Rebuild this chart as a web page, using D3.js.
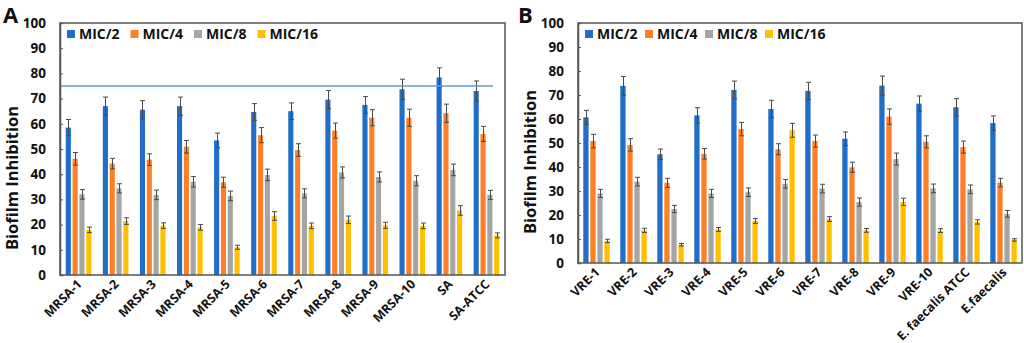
<!DOCTYPE html>
<html><head><meta charset="utf-8">
<script src="https://cdn.jsdelivr.net/npm/d3@7"></script>
<style>body{margin:0;background:#fff}svg{display:block}text{font-family:"Open Sans",sans-serif;font-weight:700;fill:#111}</style>
</head><body>
<svg id="c" width="1024" height="343"></svg>
<script>
const seriesNames = ["MIC/2","MIC/4","MIC/8","MIC/16"];
const colors = ["#1F6FCA","#FF7F27","#A5A5A5","#FFC000"];
const yTicks = [0,10,20,30,40,50,60,70,80,90,100];

const catsA = ["MRSA-1","MRSA-2","MRSA-3","MRSA-4","MRSA-5","MRSA-6","MRSA-7","MRSA-8","MRSA-9","MRSA-10","SA","SA-ATCC"];
const mic2A  = [58.5, 67, 65.6, 67, 53.4, 64.7, 65, 69.6, 67.5, 73.7, 78.4, 73];
const mic4A  = [46.1, 44.2, 45.8, 50.9, 36.8, 55.5, 49.6, 57.3, 62.4, 62.4, 64.2, 56];
const mic8A  = [32, 34.4, 31.8, 37, 31.4, 39.7, 32.4, 40.7, 38.9, 37.4, 41.7, 31.8];
const mic16A = [17.9, 21.4, 19.6, 18.9, 11, 23.4, 19.5, 21.9, 19.7, 19.5, 25.6, 15.7];
const err2A  = [3.2, 3.6, 3.6, 3.6, 2.9, 3.3, 3.3, 3.6, 3.3, 4, 3.8, 4];
const err4A  = [2.5, 2.1, 2.3, 2.5, 2, 3, 2.5, 3, 3.2, 3.4, 3.6, 3];
const err8A  = [1.9, 1.8, 1.9, 2.1, 1.9, 2.3, 1.8, 2.2, 2, 2, 2.3, 1.8];
const err16A = [1.1, 1.3, 1.1, 1.1, 0.8, 1.7, 1.1, 1.5, 1.2, 1.1, 1.9, 1];
const refLineA = 75;

const catsB = ["VRE-1","VRE-2","VRE-3","VRE-4","VRE-5","VRE-6","VRE-7","VRE-8","VRE-9","VRE-10","E. faecalis ATCC","E.faecalis"];
const mic2B  = [60.7, 73.8, 45.3, 61.5, 72.1, 64.2, 71.7, 51.8, 73.9, 66.4, 64.9, 58.3];
const mic4B  = [50.8, 49.2, 33.4, 45.5, 55.8, 47.4, 50.8, 39.9, 61, 50.5, 48.3, 33.5];
const mic8B  = [29, 33.9, 22.5, 29, 29.5, 33, 31, 25.4, 43.3, 31.1, 30.7, 20.5];
const mic16B = [9.2, 13.6, 7.6, 14, 17.5, 55.3, 18.3, 13.6, 25.5, 13.5, 17.1, 9.6];
const err2B  = [2.9, 3.9, 2.2, 3.2, 3.7, 3.6, 3.6, 2.8, 4, 3.2, 3.6, 3];
const err4B  = [2.8, 2.6, 1.9, 2.2, 2.8, 2.3, 2.5, 2.1, 3.2, 2.5, 2.5, 1.8];
const err8B  = [1.7, 1.8, 1.5, 1.7, 1.8, 1.8, 1.8, 1.7, 2.5, 1.8, 1.8, 1.4];
const err16B = [0.7, 0.9, 0.5, 0.8, 1, 2.9, 1, 0.8, 1.5, 0.8, 0.9, 0.5];

const svg = d3.select("#c");

function panel(cfg){
  const {letter, letterX, cats, vals, errs, left, right, top, bottom, pad, legendX, legendStep, titleX, titleY, ref} = cfg;
  const g = svg.append("g");
  const x = d3.scaleBand().domain(cats).range([left,right]).paddingInner(pad).paddingOuter(pad/2);
  const xs = d3.scaleBand().domain(d3.range(4)).range([0,x.bandwidth()]).paddingInner(0.25);
  const y = d3.scaleLinear().domain([0,100]).range([bottom,top]);

  seriesNames.forEach((s,si)=>{
    g.append("g").selectAll("rect").data(cats).join("rect")
      .attr("x", c=>x(c)+xs(si)).attr("width", xs.bandwidth())
      .attr("y", (c,i)=>y(vals[si][i])).attr("height",(c,i)=>y(0)-y(vals[si][i]))
      .attr("fill", colors[si]);
  });
  seriesNames.forEach((s,si)=>{
    const eg = g.append("g").attr("stroke","#4a4a4a").attr("stroke-width",1);
    cats.forEach((c,i)=>{
      const cx = Math.round(x(c)+xs(si)+xs.bandwidth()/2)+0.5;
      const hi = y(vals[si][i]+errs[si][i]), lo = y(vals[si][i]-errs[si][i]);
      eg.append("line").attr("x1",cx).attr("x2",cx).attr("y1",hi).attr("y2",lo);
      eg.append("line").attr("x1",cx-2.5).attr("x2",cx+2.5).attr("y1",hi).attr("y2",hi);
      eg.append("line").attr("x1",cx-2.5).attr("x2",cx+2.5).attr("y1",lo).attr("y2",lo);
    });
  });
  if (ref !== undefined){
    g.append("line").attr("x1",left).attr("x2",right-12).attr("y1",y(ref)).attr("y2",y(ref))
      .attr("stroke","#5B9BD5").attr("stroke-width",1.3);
  }
  g.append("rect").attr("x",left).attr("y",top).attr("width",right-left).attr("height",bottom-top)
    .attr("fill","none").attr("stroke","#555").attr("stroke-width",1.5);
  const ya = g.append("g").attr("transform",`translate(${left},0)`)
    .call(d3.axisLeft(y).tickValues(yTicks).tickSize(-3).tickPadding(14));
  ya.select(".domain").attr("stroke","#555").attr("stroke-width",1.5);
  ya.selectAll(".tick line").attr("stroke","#555");
  ya.selectAll("text").style("font-size","13.5px").attr("fill","#111");
  const xa = g.append("g").attr("transform",`translate(0,${bottom})`)
    .call(d3.axisBottom(x).tickSize(0).tickPadding(0));
  xa.select(".domain").remove();
  xa.selectAll("text").style("font-size","12.5px").attr("fill","#111")
    .attr("text-anchor","end").attr("dy","0")
    .attr("transform","translate(4,10) rotate(-45)");
  g.append("text").attr("transform",`translate(${titleX},${titleY}) rotate(-90)`)
    .attr("text-anchor","middle").style("font-size","16.5px").text("Biofilm Inhibition");
  g.append("text").attr("x",letterX).attr("y",23).style("font-size","22px").text(letter);
  const lg = g.append("g");
  seriesNames.forEach((s,si)=>{
    const lx = legendX + si*legendStep;
    lg.append("rect").attr("x",lx).attr("y",30).attr("width",8).attr("height",8).attr("fill",colors[si]);
    lg.append("text").attr("x",lx+12).attr("y",39).style("font-size","14px").text(s);
  });
}

panel({letter:"A", letterX:3, cats:catsA, vals:[mic2A,mic4A,mic8A,mic16A], errs:[err2A,err4A,err8A,err16A],
  left:60, right:505, top:23, bottom:275, pad:0.31, legendX:67, legendStep:63.5, titleX:18, titleY:178, ref:refLineA});
panel({letter:"B", letterX:518, cats:catsB, vals:[mic2B,mic4B,mic8B,mic16B], errs:[err2B,err4B,err8B,err16B],
  left:578, right:1022, top:23, bottom:263, pad:0.285, legendX:585, legendStep:60, titleX:536, titleY:162});
</script>
</body></html>
